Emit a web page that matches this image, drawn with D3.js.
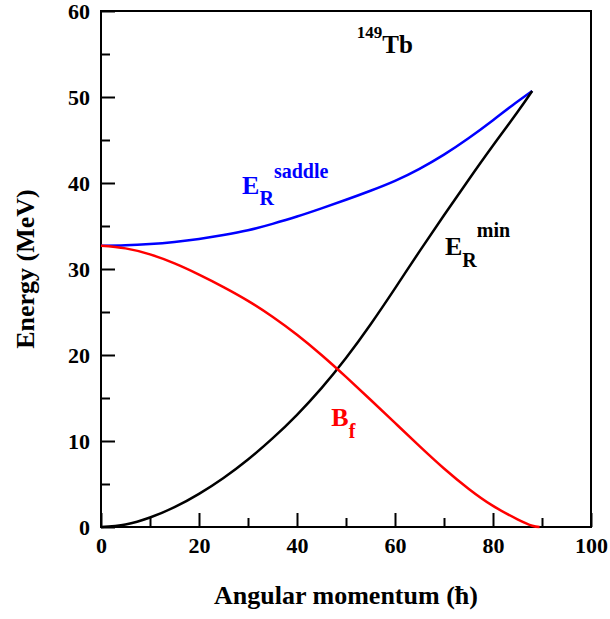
<!DOCTYPE html>
<html>
<head>
<meta charset="utf-8">
<script src="https://cdn.jsdelivr.net/npm/d3@7"></script>
<style>
  body { margin: 0; background: #fff; }
  svg { display: block; }
  text { font-family: "Liberation Serif", "Times New Roman", serif; font-weight: bold; }
</style>
</head>
<body>
<div id="main"></div>
<script>
// angular momentum (hbar) and energies (MeV)
const spinSaddle = [0, 5, 10, 15, 20, 25, 30, 35, 40, 45, 50, 55, 60, 65, 70, 75, 80, 84, 88]
const eSaddle = [32.7, 32.75, 32.9, 33.15, 33.5, 33.95, 34.5, 35.25, 36.1, 37.05, 38.05, 39.1, 40.25, 41.65, 43.3, 45.2, 47.3, 49.05, 50.7]

const spinMin = [0, 5, 10, 15, 20, 25, 30, 35, 40, 45, 50, 55, 60, 65, 70, 75, 80, 85, 88]
const eMin = [0, 0.3, 1.1, 2.3, 3.85, 5.7, 7.85, 10.3, 13.05, 16.15, 19.65, 23.55, 27.75, 32.05, 36.25, 40.35, 44.35, 48.25, 50.7]

const spinBf = [0, 5, 10, 15, 20, 25, 30, 35, 40, 45, 50, 55, 60, 65, 70, 75, 80, 85, 88, 89.5]
const eBf = [32.7, 32.4, 31.7, 30.65, 29.35, 27.9, 26.3, 24.45, 22.35, 20.0, 17.45, 14.8, 12.1, 9.4, 6.8, 4.45, 2.45, 0.9, 0.15, 0]

const xMajor = [0, 20, 40, 60, 80, 100]
const xMinor = [10, 30, 50, 70, 90]
const yMajor = [0, 10, 20, 30, 40, 50, 60]
const yMinor = [5, 15, 25, 35, 45, 55]

const width = 610
const height = 619
const margin = { top: 11, right: 19, bottom: 92, left: 101 }
const innerW = width - margin.left - margin.right
const innerH = height - margin.top - margin.bottom

const svg = d3.select("#main").append("svg")
  .attr("width", width)
  .attr("height", height)

const g = svg.append("g")
  .attr("transform", "translate(" + margin.left + "," + margin.top + ")")

const x = d3.scaleLinear().domain([0, 100]).range([0, innerW])
const y = d3.scaleLinear().domain([0, 60]).range([innerH, 0])

// frame
g.append("rect")
  .attr("width", innerW)
  .attr("height", innerH)
  .attr("fill", "none")
  .attr("stroke", "black")
  .attr("stroke-width", 2)

// axes with inward ticks
function styleAxis(sel) {
  sel.select(".domain").remove()
  sel.selectAll("line").attr("stroke", "black").attr("stroke-width", 2)
  sel.selectAll("text").attr("fill", "black").style("font-size", "22px")
}

g.append("g")
  .attr("transform", "translate(0," + innerH + ")")
  .call(d3.axisBottom(x).tickValues(xMajor).tickSize(-14).tickPadding(10).tickFormat(d3.format("d")))
  .call(styleAxis)
g.append("g")
  .attr("transform", "translate(0," + innerH + ")")
  .call(d3.axisBottom(x).tickValues(xMinor).tickSize(-9).tickFormat(""))
  .call(styleAxis)

g.append("g")
  .call(d3.axisLeft(y).tickValues(yMajor).tickSize(-14).tickPadding(11).tickFormat(d3.format("d")))
  .call(styleAxis)
g.append("g")
  .call(d3.axisLeft(y).tickValues(yMinor).tickSize(-9).tickFormat(""))
  .call(styleAxis)

// curves
const line = d3.line().x(d => x(d[0])).y(d => y(d[1])).curve(d3.curveNatural)

const series = [
  { xs: spinSaddle, ys: eSaddle, color: "#0000ff" },
  { xs: spinMin, ys: eMin, color: "#000000" },
  { xs: spinBf, ys: eBf, color: "#ff0000" }
]

series.forEach(s => {
  g.append("path")
    .datum(d3.zip(s.xs, s.ys))
    .attr("d", line)
    .attr("fill", "none")
    .attr("stroke", s.color)
    .attr("stroke-width", 2.5)
})

// axis titles
svg.append("text")
  .attr("x", margin.left + innerW / 2)
  .attr("y", 604)
  .attr("text-anchor", "middle")
  .style("font-size", "26px")
  .text("Angular momentum (ħ)")

svg.append("text")
  .attr("transform", "translate(34," + (margin.top + innerH / 2) + ") rotate(-90)")
  .attr("text-anchor", "middle")
  .style("font-size", "26px")
  .text("Energy (MeV)")

// labels: main letter, subscript, superscript, placed in data coordinates
function label(L, E, main, sub, sup, color, subShift, supShift) {
  const t = g.append("text")
    .attr("x", x(L))
    .attr("y", y(E))
    .attr("fill", color)
  t.append("tspan").style("font-size", "26px").text(main)
  if (sub) t.append("tspan").style("font-size", "20px").attr("dy", subShift).text(sub)
  if (sup) t.append("tspan").style("font-size", "20px").attr("dy", supShift).text(sup)
}

label(28.8, 38.7, "E", "R", "saddle", "#0000ff", 11, -27)
label(70.2, 31.6, "E", "R", "min", "#000000", 12, -30)
label(47.0, 11.8, "B", "f", null, "#ff0000", 12, 0)

// nucleus label
const nuc = g.append("text")
  .attr("x", x(52.2))
  .attr("y", y(56.9))
nuc.append("tspan").style("font-size", "17px").text("149")
nuc.append("tspan").style("font-size", "25px").attr("dy", 15).text("Tb")
</script>
</body>
</html>
